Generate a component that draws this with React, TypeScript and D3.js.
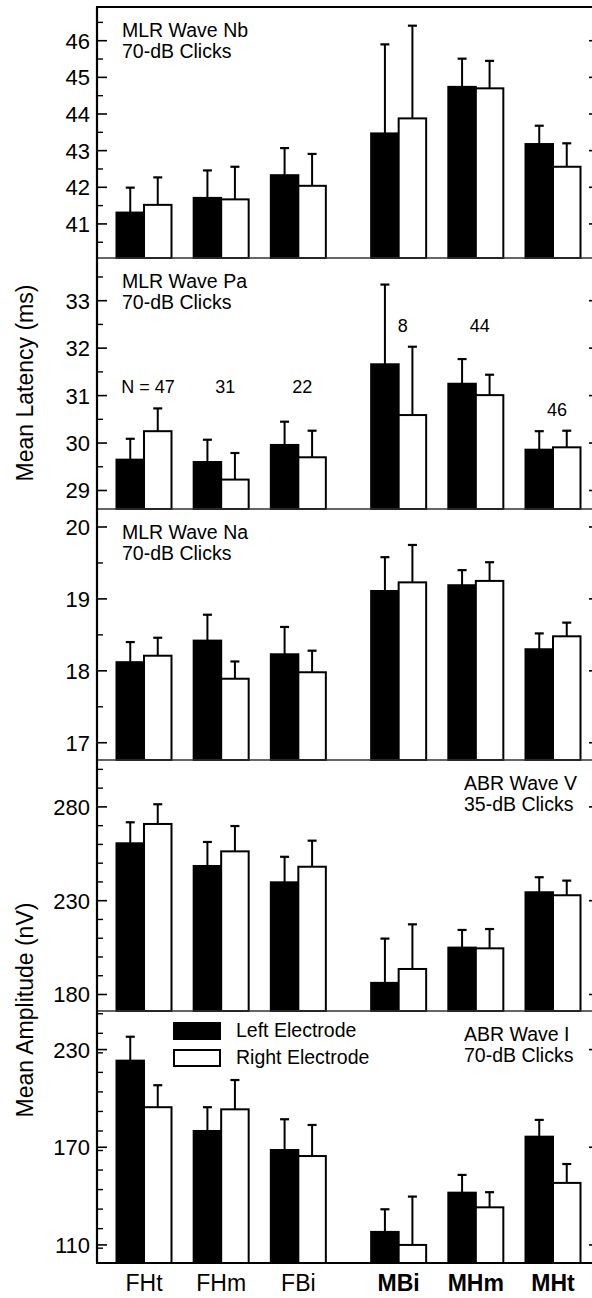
import React from "react";
import * as d3 from "d3";

const FONT = "'Liberation Sans', Arial, Helvetica, sans-serif";

const categories = ["FHt", "FHm", "FBi", "MBi", "MHm", "MHt"];
const boldCategories = ["MBi", "MHm", "MHt"];
const groupPositions = [1, 2, 3, 4.3, 5.3, 6.3];

// MLR Wave Nb (ms)
const nbLeft = [41.31, 41.71, 42.33, 43.47, 44.74, 43.18];
const nbLeftErr = [0.68, 0.75, 0.74, 2.43, 0.77, 0.5];
const nbRight = [41.52, 41.67, 42.04, 43.88, 44.7, 42.56];
const nbRightErr = [0.75, 0.89, 0.87, 2.53, 0.75, 0.64];

// MLR Wave Pa (ms)
const paLeft = [29.65, 29.6, 29.96, 31.66, 31.25, 29.86];
const paLeftErr = [0.44, 0.47, 0.49, 1.68, 0.52, 0.39];
const paRight = [30.25, 29.23, 29.7, 30.59, 31.01, 29.91];
const paRightErr = [0.48, 0.56, 0.56, 1.44, 0.43, 0.35];
const nLabels = ["N = 47", "31", "22", "8", "44", "46"];
const nLabelValues = [31.06, 31.06, 31.06, 32.35, 32.35, 30.56];

// MLR Wave Na (ms)
const naLeft = [18.12, 18.42, 18.23, 19.11, 19.19, 18.3];
const naLeftErr = [0.28, 0.36, 0.38, 0.47, 0.21, 0.22];
const naRight = [18.21, 17.89, 17.98, 19.23, 19.25, 18.48];
const naRightErr = [0.25, 0.24, 0.3, 0.52, 0.26, 0.19];

// ABR Wave V (nV)
const vLeft = [260.6, 248.5, 239.8, 186.2, 205.0, 234.5];
const vLeftErr = [11.2, 12.8, 13.6, 23.6, 9.4, 8.0];
const vRight = [270.9, 256.3, 248.1, 193.6, 204.6, 232.9];
const vRightErr = [10.5, 13.5, 13.9, 23.8, 10.3, 7.8];

// ABR Wave I (nV)
const iLeft = [223.2, 180.0, 168.3, 118.0, 142.1, 176.5];
const iLeftErr = [14.7, 14.6, 18.9, 13.9, 10.9, 10.3];
const iRight = [194.6, 193.3, 164.6, 110.0, 133.1, 148.1];
const iRightErr = [13.5, 18.0, 19.1, 29.7, 9.3, 11.6];

const panels = [
  { title: ["MLR Wave Nb", "70-dB Clicks"], titleSide: "left", domain: [40.07, 46.92], majors: [41, 42, 43, 44, 45, 46], minorStep: 0.5, left: nbLeft, leftErr: nbLeftErr, right: nbRight, rightErr: nbRightErr },
  { title: ["MLR Wave Pa", "70-dB Clicks"], titleSide: "left", domain: [28.61, 33.9], majors: [29, 30, 31, 32, 33], minorStep: 0.5, left: paLeft, leftErr: paLeftErr, right: paRight, rightErr: paRightErr, nLabels: true },
  { title: ["MLR Wave Na", "70-dB Clicks"], titleSide: "left", domain: [16.76, 20.25], majors: [17, 18, 19, 20], minorStep: 0.5, left: naLeft, leftErr: naLeftErr, right: naRight, rightErr: naRightErr },
  { title: ["ABR Wave V", "35-dB Clicks"], titleSide: "right", domain: [171.2, 305], majors: [180, 230, 280], minorStep: 10, left: vLeft, leftErr: vLeftErr, right: vRight, rightErr: vRightErr },
  { title: ["ABR Wave I", "70-dB Clicks"], titleSide: "right", domain: [98.9, 253.7], majors: [110, 170, 230], minorStep: 12, left: iLeft, leftErr: iLeftErr, right: iRight, rightErr: iRightErr, legend: true },
];

const W = 592;
const H = 1298;
const AX_L = 97;
const AX_R = 598;
const panelEdges = [7, 258, 509, 760, 1011, 1263];

const xScale = d3.scaleLinear().domain([1, 6.3]).range([144, 553]);
const BAR_W = 27.5;
const CAP = 9;

function Panel({ p, top, bottom }: any) {
  const y = d3.scaleLinear().domain(p.domain).range([bottom, top]);
  const minors: number[] = [];
  const start = Math.ceil(p.domain[0] / p.minorStep - 1e-9);
  const end = Math.floor(p.domain[1] / p.minorStep + 1e-9);
  for (let k = start; k <= end; k++) {
    const v = +(k * p.minorStep).toFixed(4);
    if (!p.majors.some((m: number) => Math.abs(m - v) < 1e-6)) minors.push(v);
  }
  const bars: any[] = [];
  categories.forEach((c, i) => {
    const cx = xScale(groupPositions[i]);
    const sets = [
      { x0: cx - BAR_W, val: p.left[i], err: p.leftErr[i], fill: "#000" },
      { x0: cx, val: p.right[i], err: p.rightErr[i], fill: "#fff" },
    ];
    sets.forEach((s, j) => {
      const yt = y(s.val);
      const ye = y(s.val + s.err);
      const mx = s.x0 + BAR_W / 2;
      bars.push(
        <g key={c + j}>
          <line x1={mx} x2={mx} y1={yt} y2={ye} stroke="#000" strokeWidth={2} />
          <line x1={mx - CAP / 2} x2={mx + CAP / 2} y1={ye} y2={ye} stroke="#000" strokeWidth={2.2} />
          <rect x={s.x0} y={yt} width={BAR_W} height={bottom - yt} fill={s.fill} stroke="#000" strokeWidth={2} />
        </g>
      );
    });
  });
  const tx = p.titleSide === "left" ? 122 : 464;
  return (
    <g>
      {p.majors.map((m: number) => (
        <g key={"M" + m}>
          <line x1={AX_L} x2={AX_L + 10} y1={y(m)} y2={y(m)} stroke="#000" strokeWidth={1.6} />
          <line x1={AX_R} x2={AX_R - 9} y1={y(m)} y2={y(m)} stroke="#000" strokeWidth={1.6} />
          <text x={90} y={y(m)} dy="0.36em" textAnchor="end" fontSize={22} fontFamily={FONT} fill="#000">{m}</text>
        </g>
      ))}
      {minors.map((m) => (
        <g key={"m" + m}>
          <line x1={AX_L} x2={AX_L + 6} y1={y(m)} y2={y(m)} stroke="#000" strokeWidth={1.4} />
          <line x1={AX_R} x2={AX_R - 5} y1={y(m)} y2={y(m)} stroke="#000" strokeWidth={1.4} />
        </g>
      ))}
      {bars}
      <line x1={AX_L} x2={AX_R} y1={bottom} y2={bottom} stroke="#333" strokeWidth={1.6} />
      <text x={tx} y={top + 30} fontSize={19.5} fontFamily={FONT} fill="#000">{p.title[0]}</text>
      <text x={tx} y={top + 50.5} fontSize={19.5} fontFamily={FONT} fill="#000">{p.title[1]}</text>
      {p.nLabels &&
        nLabels.map((t, i) => (
          <text key={t} x={xScale(groupPositions[i]) + 4} y={y(nLabelValues[i])} textAnchor="middle" fontSize={18} fontFamily={FONT} fill="#000">{t}</text>
        ))}
      {p.legend && (
        <g fontFamily={FONT} fontSize={19.5}>
          <rect x={174} y={top + 12} width={46} height={16} fill="#000" stroke="#000" strokeWidth={2} />
          <text x={236} y={top + 26} fill="#000">Left Electrode</text>
          <rect x={174} y={top + 39} width={46} height={16} fill="#fff" stroke="#000" strokeWidth={2} />
          <text x={236} y={top + 53} fill="#000">Right Electrode</text>
        </g>
      )}
    </g>
  );
}

export default function App() {
  return (
    <svg width={W} height={H} style={{ position: "absolute", left: 0, top: 0, background: "#fff" }}>
      <rect x={0} y={0} width={W} height={H} fill="#fff" />
      {panels.map((p, i) => (
        <Panel key={i} p={p} top={panelEdges[i]} bottom={panelEdges[i + 1]} />
      ))}
      <line x1={AX_L} x2={AX_L} y1={panelEdges[0]} y2={panelEdges[5]} stroke="#000" strokeWidth={2.2} />
      <line x1={AX_L - 1} x2={AX_R} y1={panelEdges[0]} y2={panelEdges[0]} stroke="#000" strokeWidth={2.2} />
      <line x1={AX_R} x2={AX_R} y1={panelEdges[0]} y2={panelEdges[5]} stroke="#000" strokeWidth={2.2} />
      <line x1={AX_L - 1} x2={AX_R} y1={panelEdges[5]} y2={panelEdges[5]} stroke="#000" strokeWidth={2.2} />
      {categories.map((c, i) => (
        <text key={c} x={xScale(groupPositions[i])} y={1291} textAnchor="middle" fontSize={23} fontFamily={FONT} fontWeight={boldCategories.includes(c) ? "bold" : "normal"} fill="#000">{c}</text>
      ))}
      <text transform="translate(33,383) rotate(-90)" textAnchor="middle" fontSize={23} fontFamily={FONT} fill="#000">Mean Latency (ms)</text>
      <text transform="translate(33,1010) rotate(-90)" textAnchor="middle" fontSize={23} fontFamily={FONT} fill="#000">Mean Amplitude (nV)</text>
    </svg>
  );
}
